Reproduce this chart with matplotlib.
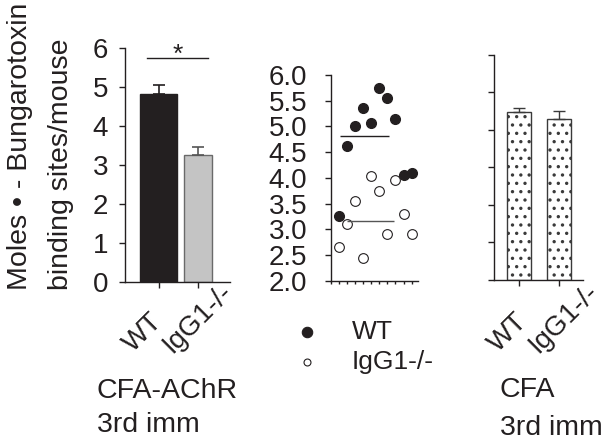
import numpy as np
import matplotlib.pyplot as plt
from matplotlib.lines import Line2D

plt.rcParams['font.family'] = ['Liberation Sans', 'DejaVu Sans']
plt.rcParams['hatch.linewidth'] = 1.2

INK = '#231f20'

# data
groups = ['WT', 'IgG1-/-']
achr_mean = [4.81, 3.26]        # CFA-AChR, 3rd imm
achr_sem = [0.24, 0.19]
cfa_mean = [4.49, 4.28]         # CFA, 3rd imm
cfa_sem = [0.09, 0.23]
wt_points = [3.26, 4.62, 5.01, 5.36, 5.06, 5.74, 5.55, 5.14, 4.06, 4.09]
ko_points = [2.65, 3.11, 3.55, 2.45, 4.04, 3.75, 2.90, 3.96, 3.29, 2.90]
mean_lines = [4.81, 3.17]

fig = plt.figure(figsize=(6.09, 4.44), dpi=100)


def style(ax):
    for s in ['top', 'right']:
        ax.spines[s].set_visible(False)
    for s in ['left', 'bottom']:
        ax.spines[s].set_linewidth(1.0)
        ax.spines[s].set_color(INK)
    ax.tick_params(direction='out', length=4, width=1.0, colors=INK)


# --- panel 1: CFA-AChR bars ---
ax1 = fig.add_axes([0.205, 0.3642, 0.173, 0.5284])
style(ax1)
x = np.arange(len(groups))
ax1.bar(x, achr_mean, width=[0.94, 0.71], color=[INK, '#c4c4c4'],
        edgecolor=[INK, '#6a6a6a'], linewidth=1.0)
for i, err_col in zip(x, [INK, '#555555']):
    ax1.errorbar(i, achr_mean[i], yerr=[[0], [achr_sem[i]]], color=err_col,
                 capsize=4, elinewidth=1.2, capthick=1.2)
ax1.set_xlim(-0.85, 1.81)
ax1.set_ylim(0, 6)
ax1.set_yticks(range(7))
ax1.set_xticks(x)
ax1.set_xticklabels([])
ax1.tick_params(axis='y', labelsize=20, pad=8)
ax1.plot([-0.29, 1.25], [5.74, 5.74], color=INK, lw=1.0)
ax1.text(0.49, 5.82, '*', ha='center', va='center', fontsize=19, color=INK)
for i, (dx, fy) in enumerate([(-0.39, -0.216), (0.0, -0.155)]):
    ax1.text(i + dx, fy, groups[i], rotation=45, ha='center', va='center',
             rotation_mode='anchor', fontsize=20, color=INK,
             transform=ax1.get_xaxis_transform())

# --- panel 2: individual mice ---
ax2 = fig.add_axes([0.5435, 0.3678, 0.1429, 0.4633])
style(ax2)
xp = np.arange(1, len(wt_points) + 1)
ax2.plot(xp, wt_points, 'o', ms=7, mfc=INK, mec=INK, clip_on=False)
ax2.plot(xp, ko_points, 'o', ms=7, mfc='white', mec=INK, mew=0.8,
         clip_on=False)
ax2.hlines(mean_lines[0], 1.12, 7.2, color=INK, lw=1.0)
ax2.hlines(mean_lines[1], 2.03, 7.8, color='#555555', lw=1.0)
ax2.set_xlim(0, 10.8)
ax2.set_ylim(2, 6)
ax2.set_yticks(np.arange(2.0, 6.01, 0.5))
ax2.set_yticklabels(['%.1f' % v for v in np.arange(2.0, 6.01, 0.5)])
ax2.set_xticks(np.arange(0, 11))
ax2.set_xticklabels([])
ax2.tick_params(axis='x', length=2.5)
ax2.tick_params(axis='y', labelsize=20, pad=13)

# legend below the scatter
for k, (lab, fc, ms) in enumerate(zip(groups, [INK, 'white'], [7.5, 5])):
    yy = [0.2523, 0.1847][k]
    fig.add_artist(Line2D([0.504], [yy], transform=fig.transFigure,
                          marker='o', ls='', ms=ms, mfc=fc, mec=INK, mew=0.8))
    fig.text(0.578, yy, lab, ha='left', va='center', fontsize=19, color=INK)

# --- panel 3: CFA bars ---
ax3 = fig.add_axes([0.8112, 0.3694, 0.1461, 0.5068])
style(ax3)
ax3.bar(x, cfa_mean, width=0.6, color='white', edgecolor='#3a3a3a',
        linewidth=1.0, hatch='..')
ax3.errorbar(x, cfa_mean, yerr=[[0, 0], cfa_sem], fmt='none', ecolor='#3a3a3a',
             capsize=4, elinewidth=1.0, capthick=1.0)
ax3.set_xlim(-0.625, 1.6)
ax3.set_ylim(0, 6)
ax3.set_yticks(range(7))
ax3.set_yticklabels([])
ax3.set_xticks(x)
ax3.set_xticklabels([])
for i, (dx, fy) in enumerate([(-0.275, -0.236), (0.12, -0.17)]):
    ax3.text(i + dx, fy, groups[i], rotation=45, ha='center', va='center',
             rotation_mode='anchor', fontsize=20, color=INK,
             transform=ax3.get_xaxis_transform())

# y label, two lines
fig.text(0.033, 0.347, 'Moles \u2022 - Bungarotoxin', rotation=90,
         ha='center', va='bottom', fontsize=20.5, color=INK)
fig.text(0.100, 0.347, 'binding sites/mouse', rotation=90,
         ha='center', va='bottom', fontsize=20.5, color=INK)

# condition captions
fig.text(0.159, 0.1036, 'CFA-AChR', fontsize=20.5, color=INK, va='baseline')
fig.text(0.159, 0.027, '3rd imm', fontsize=20.5, color=INK, va='baseline')
fig.text(0.821, 0.1059, 'CFA', fontsize=20.5, color=INK, va='baseline')
fig.text(0.821, 0.0203, '3rd imm', fontsize=20.5, color=INK, va='baseline')

fig.savefig('out.png', dpi=100)
